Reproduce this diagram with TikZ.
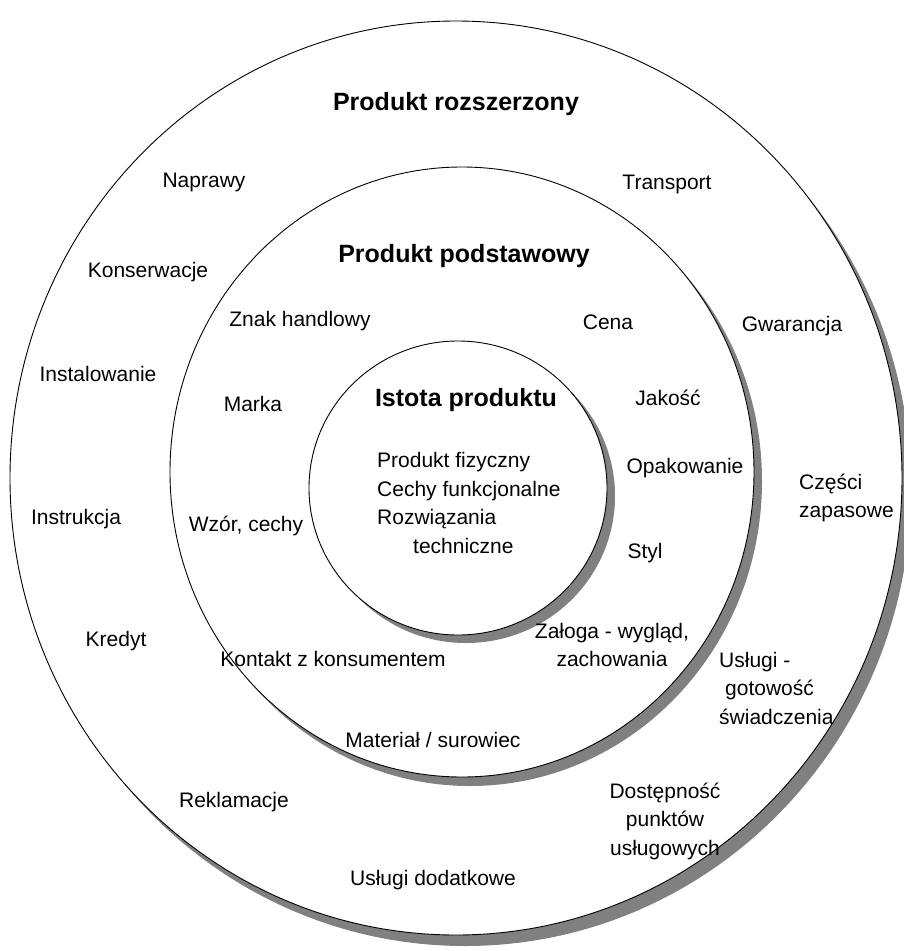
\documentclass[tikz,border=0pt]{standalone}
\usepackage{fontspec}
\setmainfont{Liberation Sans}
\begin{document}
\begin{tikzpicture}[x=1pt,y=-1pt,
  ring/.style={draw=black,line width=0.9pt,fill=white},
  shade/.style={fill=black!50,draw=none},
  lbl/.style={inner sep=0pt,font=\fontsize{21}{28.5}\selectfont},
  ttl/.style={inner sep=0pt,font=\fontsize{25}{30}\selectfont\bfseries}]
\useasboundingbox (0,0) rectangle (903,951);
% outer
\fill[shade] (465,489) ellipse [x radius=446,y radius=457];
\draw[ring] (456,478) ellipse [x radius=446,y radius=457];
% middle
\fill[shade] (470,481) ellipse [x radius=292,y radius=305];
\draw[ring] (462,472) ellipse [x radius=292,y radius=305];
% inner
\fill[shade] (466,496) ellipse [x radius=149,y radius=147];
\draw[ring] (458,488) ellipse [x radius=149,y radius=147];

\node[ttl] (t1) at (456,104) {Produkt rozszerzony};
\node[ttl] (t2) at (464,256) {Produkt podstawowy};
\node[ttl] (t3) at (466,400) {Istota produktu};

\node[lbl] (a1) at (204,182) {Naprawy};
\node[lbl] (a2) at (667,184) {Transport};
\node[lbl] (a3) at (148,272) {Konserwacje};
\node[lbl] (a4) at (792,326) {Gwarancja};
\node[lbl] (a5) at (98,374) {Instalowanie};
\node[lbl,anchor=west,align=left] (a6) at (799,498) {Części\\zapasowe};
\node[lbl] (a7) at (76,519) {Instrukcja};
\node[lbl] (a8) at (116,641) {Kredyt};
\node[lbl,anchor=west,align=left] (a9) at (719,688) {Usługi -\\\hspace*{6pt}gotowość\\świadczenia};
\node[lbl,align=center] (a10) at (665,821) {Dostępność\\punktów\\usługowych};
\node[lbl] (a11) at (234,802) {Reklamacje};
\node[lbl] (a12) at (433,880) {Usługi dodatkowe};

\node[lbl] (b1) at (300,321) {Znak handlowy};
\node[lbl] (b2) at (608,322) {Cena};
\node[lbl] (b3) at (253,404) {Marka};
\node[lbl] (b4) at (668,398) {Jakość};
\node[lbl] (b5) at (685,468) {Opakowanie};
\node[lbl] (b6) at (246,526) {Wzór, cechy};
\node[lbl] (b7) at (645,553) {Styl};
\node[lbl,align=center] (b8) at (612,645) {Załoga - wygląd,\\zachowania};
\node[lbl] (b9) at (333,659) {Kontakt z konsumentem};
\node[lbl] (b10) at (433,740) {Materiał / surowiec};

\node[lbl,anchor=west,align=left] (c1) at (377,503) {Produkt fizyczny\\Cechy funkcjonalne\\Rozwiązania\\\hspace*{36pt}techniczne};
\end{tikzpicture}
\end{document}
